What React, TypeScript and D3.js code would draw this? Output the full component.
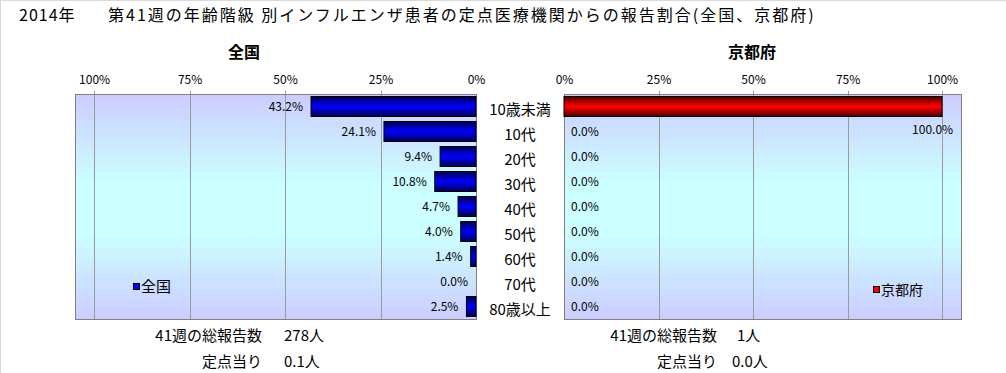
import React, { useEffect, useRef } from "react";
import * as d3 from "d3";

const categories = ["10歳未満", "10代", "20代", "30代", "40代", "50代", "60代", "70代", "80歳以上"];
const zenkokuValues = [0.432, 0.241, 0.094, 0.108, 0.047, 0.04, 0.014, 0.0, 0.025];
const kyotoValues = [1.0, 0, 0, 0, 0, 0, 0, 0, 0];
const tickValues = [0, 0.25, 0.5, 0.75, 1];
const titleYear = "2014年";
const titleMain = "第41週の年齢階級 別インフルエンザ患者の定点医療機関からの報告割合(全国、京都府)";
const zenkokuFooter = ["278人", "0.1人"];
const kyotoFooter = ["1人", "0.0人"];
const footerLabels = ["41週の総報告数", "定点当り"];

const W = 1006;
const H = 373;
const FONT = "'Noto Sans CJK JP', 'Noto Sans', sans-serif";

const App: React.FC = () => {
  const svgRef = useRef<SVGSVGElement | null>(null);

  useEffect(() => {
    if (!svgRef.current) return;
    const svg = d3.select(svgRef.current);
    svg.selectAll("*").remove();

    const defs = svg.append("defs");
    const bg = defs.append("linearGradient").attr("id", "bg").attr("x1", 0).attr("y1", 0).attr("x2", 0).attr("y2", 1);
    bg.append("stop").attr("offset", "0%").attr("stop-color", "#ccccff");
    bg.append("stop").attr("offset", "40%").attr("stop-color", "#ccffff");
    bg.append("stop").attr("offset", "62%").attr("stop-color", "#ccffff");
    bg.append("stop").attr("offset", "100%").attr("stop-color", "#ccccff");

    const mkBar = (id: string, dark: string, bright: string) => {
      const g = defs.append("linearGradient").attr("id", id).attr("x1", 0).attr("y1", 0).attr("x2", 0).attr("y2", 1);
      g.append("stop").attr("offset", "0%").attr("stop-color", dark);
      g.append("stop").attr("offset", "50%").attr("stop-color", bright);
      g.append("stop").attr("offset", "100%").attr("stop-color", dark);
    };
    mkBar("blueBar", "#00004d", "#0000ff");
    mkBar("redBar", "#4d0000", "#ff0000");

    // outer frame (top & left edges visible)
    svg.append("line").attr("x1", 0).attr("x2", W).attr("y1", 0.5).attr("y2", 0.5).attr("stroke", "#d9d9d9");
    svg.append("line").attr("x1", 0.5).attr("x2", 0.5).attr("y1", 0).attr("y2", H).attr("stroke", "#d9d9d9");

    svg.append("text").attr("x", 19).attr("y", 21).attr("font-size", 16).attr("letter-spacing", 1).attr("font-family", FONT).text(titleYear);
    svg.append("text").attr("x", 108).attr("y", 21).attr("font-size", 16).attr("letter-spacing", 2).attr("font-family", FONT).text(titleMain);

    const top = 94;
    const bottom = 319;
    const y = d3.scaleBand<string>().domain(categories).range([top, bottom]).paddingInner(0.2).paddingOuter(0.1);

    const panel = (
      values: number[],
      x: d3.ScaleLinear<number, number>,
      name: string,
      titleX: number,
      fillId: string,
      legendColor: string,
      legendX: number,
      legendY: number,
      legendSize: number,
      footerX: number,
      footerVals: string[],
      leftSide: boolean
    ) => {
      const g = svg.append("g");
      const [r0, r1] = x.range();
      const px0 = Math.min(r0, r1);
      const px1 = Math.max(r0, r1);

      g.append("text")
        .attr("x", titleX)
        .attr("y", 58)
        .attr("text-anchor", "middle")
        .attr("font-size", 16)
        .attr("font-weight", "bold")
        .attr("font-family", FONT)
        .text(name);

      g.append("rect")
        .attr("x", px0)
        .attr("y", top)
        .attr("width", px1 - px0)
        .attr("height", bottom - top)
        .attr("fill", "url(#bg)");

      g.selectAll("line.grid")
        .data(tickValues.filter((t) => t > 0))
        .enter()
        .append("line")
        .attr("class", "grid")
        .attr("x1", (d) => Math.round(x(d)) + 0.5)
        .attr("x2", (d) => Math.round(x(d)) + 0.5)
        .attr("y1", top - 3)
        .attr("y2", bottom)
        .attr("stroke", "#9a9a9a");

      g.append("rect")
        .attr("x", px0 + 0.5)
        .attr("y", top + 0.5)
        .attr("width", px1 - px0)
        .attr("height", bottom - top)
        .attr("fill", "none")
        .attr("stroke", "#808080");

      const axis = d3
        .axisTop(x)
        .tickValues(tickValues)
        .tickFormat(d3.format(".0%") as any)
        .tickSize(0)
        .tickPadding(10);
      const ax = g.append("g").attr("transform", `translate(0,${top})`).call(axis);
      ax.select(".domain").remove();
      ax.selectAll("text").attr("font-size", 12).attr("font-family", FONT).attr("fill", "#000");

      g.selectAll("rect.bar")
        .data(values)
        .enter()
        .append("rect")
        .attr("class", "bar")
        .attr("x", (d) => Math.min(x(0), x(d)))
        .attr("y", (_, i) => y(categories[i])!)
        .attr("width", (d) => Math.abs(x(d) - x(0)))
        .attr("height", y.bandwidth())
        .attr("fill", `url(#${fillId})`)
        .attr("stroke", (d) => (d > 0 ? "#000" : "none"))
        .attr("stroke-width", 1);

      g.selectAll("text.val")
        .data(values)
        .enter()
        .append("text")
        .attr("class", "val")
        .attr("font-size", 12)
        .attr("font-family", FONT)
        .attr("text-anchor", (d) => (leftSide ? "end" : d > 0 ? "end" : "start"))
        .attr("x", (d) => (leftSide ? x(d) - 8 : d > 0 ? x(d) + 11 : x(0) + 7))
        .attr("y", (d, i) => y(categories[i])! + y.bandwidth() / 2 + (!leftSide && d > 0 ? 27 : 4))
        .text((d) => d3.format(".1%")(d));

      // legend
      g.append("rect")
        .attr("x", legendX + 0.5)
        .attr("y", legendY - 3.5)
        .attr("width", 6)
        .attr("height", 6)
        .attr("fill", legendColor)
        .attr("stroke", "#000");
      g.append("text")
        .attr("x", legendX + 8)
        .attr("y", legendY + 5)
        .attr("font-size", legendSize)
        .attr("font-family", FONT)
        .text(name);

      footerLabels.forEach((lab, i) => {
        const fy = 341 + i * 26;
        g.append("text")
          .attr("x", footerX)
          .attr("y", fy)
          .attr("text-anchor", "end")
          .attr("font-size", 15)
          .attr("font-family", FONT)
          .text(lab);
        g.append("text")
          .attr("x", footerX + (i === 0 ? (leftSide ? 22 : 20) : leftSide ? 22 : 15))
          .attr("y", fy)
          .attr("font-size", 15)
          .attr("font-family", FONT)
          .text(footerVals[i]);
      });
    };

    const xLeft = d3.scaleLinear().domain([0, 1.05]).range([476, 75]);
    const xRight = d3.scaleLinear().domain([0, 1.05]).range([564, 961]);

    panel(zenkokuValues, xLeft, "全国", 244, "blueBar", "#0000ff", 133, 287, 15, 262, zenkokuFooter, true);
    panel(kyotoValues, xRight, "京都府", 752, "redBar", "#ff0000", 873, 290, 14, 717, kyotoFooter, false);

    svg
      .selectAll("text.cat")
      .data(categories)
      .enter()
      .append("text")
      .attr("class", "cat")
      .attr("x", 520)
      .attr("y", (d) => y(d)! + y.bandwidth() / 2 + 8.5)
      .attr("text-anchor", "middle")
      .attr("font-size", 15)
      .attr("font-family", FONT)
      .text((d) => d);
  }, []);

  return (
    <svg
      ref={svgRef}
      width={W}
      height={H}
      style={{ position: "absolute", left: 0, top: 0, background: "#fff" }}
    />
  );
};

export default App;
